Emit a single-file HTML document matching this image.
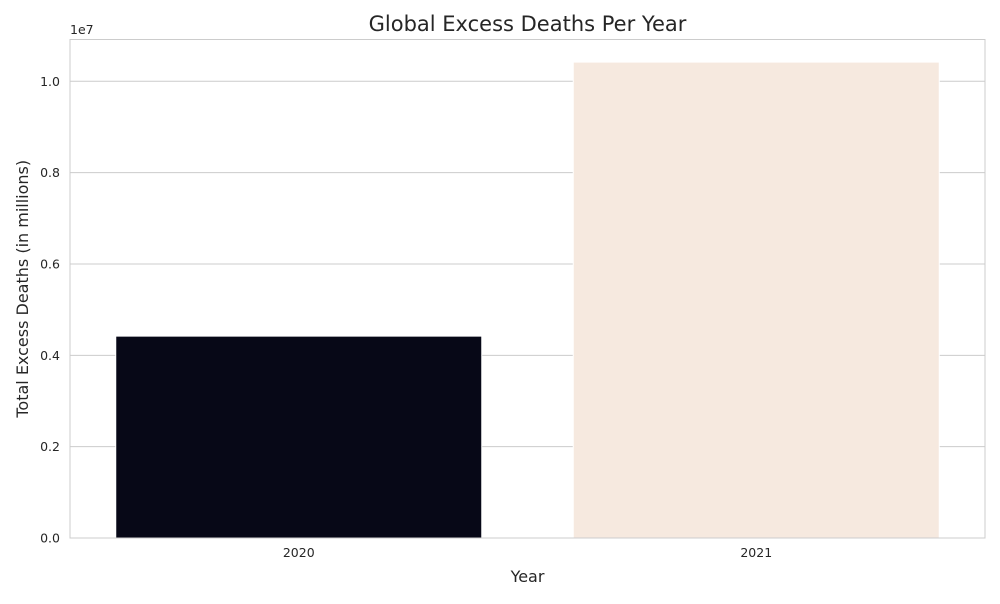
<!DOCTYPE html>
<html><head><meta charset="utf-8"><style>
body{margin:0;background:#fff;font-family:"DejaVu Sans","Liberation Sans",sans-serif;}
</style></head><body>
<svg id="chart" width="1000" height="600" xmlns="http://www.w3.org/2000/svg"></svg>
<script>
const categories = ["2020", "2021"];
const values = [4420000, 10420000];
const colors = ["#070817", "#f6e9df"];
const yTicks = [0, 0.2e7, 0.4e7, 0.6e7, 0.8e7, 1.0e7];
const yTickLabels = ["0.0", "0.2", "0.4", "0.6", "0.8", "1.0"];

const svg = document.getElementById('chart');
const NS = 'http://www.w3.org/2000/svg';
const L = 70, R = 985, T = 39.5, B = 538;
const yMax = 1.0915e7;
function y(v){ return B - v / yMax * (B - T); }
const band = (R - L) / categories.length;
function xc(i){ return L + band * (i + 0.5); }
function mk(tag, attrs, text){
  const e = document.createElementNS(NS, tag);
  for (const k in attrs) e.setAttribute(k, attrs[k]);
  if (text !== undefined) e.textContent = text;
  svg.appendChild(e);
  return e;
}
yTicks.forEach((t, i) => {
  if (i > 0) {
    const g = mk('line', {x1: L, x2: R, y1: y(t), y2: y(t), stroke: '#cccccc', 'stroke-width': 1});
    
    
  }
  const lb = mk('text', {x: L - 10, y: y(t) + 4.5, 'text-anchor': 'end', 'font-size': 12.5, fill: '#262626'}, yTickLabels[i]);
  
  
});
categories.forEach((c, i) => {
  const w = band * 0.8;
  const b = mk('rect', {x: xc(i) - w / 2, y: y(values[i]), width: w, height: B - y(values[i]), fill: colors[i], stroke: '#ffffff', 'stroke-width': 1});
  
  
  const lb = mk('text', {x: xc(i), y: B + 19, 'text-anchor': 'middle', 'font-size': 12.5, fill: '#262626'}, c);
  
  
});
const frame = mk('rect', {x: L, y: T, width: R - L, height: B - T, fill: 'none', stroke: '#cccccc', 'stroke-width': 1});


const off = mk('text', {x: L, y: 34, 'font-size': 12.5, fill: '#262626'}, '1e7');


const title = mk('text', {x: (L + R) / 2, y: 31, 'text-anchor': 'middle', 'font-size': 21, fill: '#262626'}, 'Global Excess Deaths Per Year');


const xt = mk('text', {x: (L + R) / 2, y: 582, 'text-anchor': 'middle', 'font-size': 16, fill: '#262626'}, 'Year');


const yt = mk('text', {x: 0, y: 0, 'text-anchor': 'middle', 'font-size': 16, fill: '#262626', transform: 'translate(28,' + ((T + B) / 2) + ') rotate(-90)'}, 'Total Excess Deaths (in millions)');


</script>
</body></html>
